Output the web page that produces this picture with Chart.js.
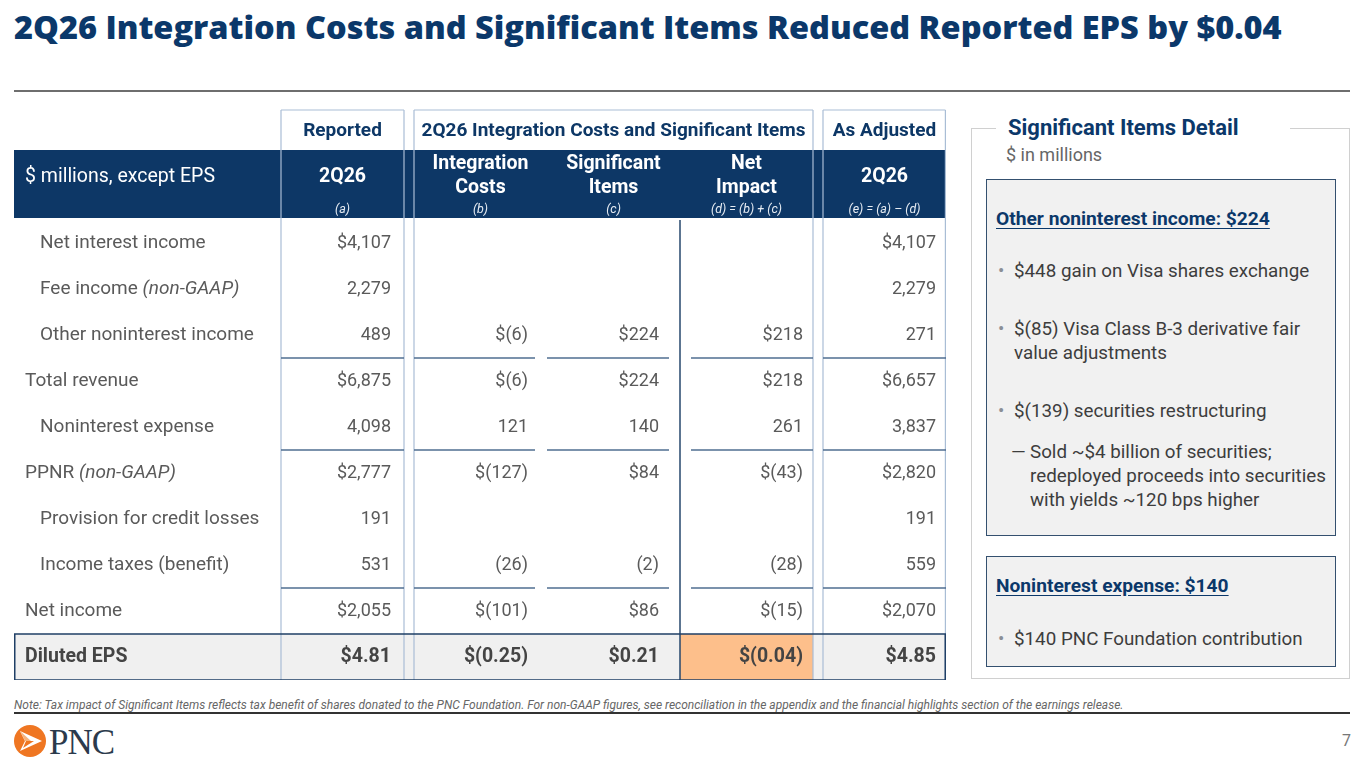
<!DOCTYPE html>
<html><head><meta charset="utf-8">
<script src="https://cdn.jsdelivr.net/npm/chart.js@4.4.1/dist/chart.umd.min.js"></script>
<style>
html,body{margin:0;padding:0;background:#fff;}
body{width:1365px;height:768px;position:relative;overflow:hidden;font-family:Roboto,"DejaVu Sans",sans-serif;}
#title{position:absolute;left:14px;top:5px;font-family:"Open Sans",Lato,sans-serif;font-weight:800;font-size:30px;color:#0b386a;white-space:nowrap;line-height:44px;}
#rule1{position:absolute;left:14px;top:90px;width:1336px;height:2px;background:#6e6e6e;}
#tableWrap{position:absolute;left:14px;top:109px;width:932px;height:571px;}
#panel{position:absolute;left:971px;top:128px;width:379px;height:551px;border:1px solid #d0d0d0;box-sizing:border-box;}
#panelTitle{position:absolute;left:996px;top:114px;width:294px;height:28px;background:#fff;padding-left:12px;box-sizing:border-box;font-weight:700;font-size:22px;line-height:28px;color:#0b386a;}
#panelSub{position:absolute;left:1006px;top:144px;font-size:18px;line-height:22px;color:#666;}
.box{position:absolute;left:986px;width:350px;background:#f1f1f1;border:1.5px solid #34506f;box-sizing:border-box;color:#3d3d3d;font-size:18.8px;}
.box .h{position:absolute;left:9px;font-weight:700;font-size:19.2px;color:#0b386a;text-decoration:underline;text-underline-offset:3px;line-height:22px;white-space:nowrap;}
.box .b{position:absolute;left:27px;line-height:24px;white-space:nowrap;}
.box .b::before{content:"•";position:absolute;left:-16px;color:#8a8f96;}
.box .d{position:absolute;left:43px;line-height:24px;white-space:nowrap;}
.box .d::before{content:"—";position:absolute;left:-19px;color:#3d3d3d;}
#note{position:absolute;left:14px;top:697px;font-size:12px;font-style:italic;color:#666;white-space:nowrap;line-height:16px;}
#rule2{position:absolute;left:14px;top:712px;width:1336px;height:1.5px;background:#333;}
#pageNo{position:absolute;left:1342px;top:731px;font-size:16px;color:#777;}
#logo{position:absolute;left:14px;top:724px;}
</style></head>
<body>
<div id="title">2Q26 Integration Costs and Significant Items Reduced Reported EPS by $0.04</div>
<div id="rule1"></div>

<div id="tableWrap"><canvas id="tbl" width="932" height="571"></canvas></div>

<div id="panel"></div>
<div id="panelTitle">Significant Items Detail</div>
<div id="panelSub">$ in millions</div>
<div class="box" style="top:179px;height:357px;">
  <div class="h" style="top:28px;">Other noninterest income: $224</div>
  <div class="b" style="top:79px;">$448 gain on Visa shares exchange</div>
  <div class="b" style="top:137px;">$(85) Visa Class B-3 derivative fair<br>value adjustments</div>
  <div class="b" style="top:219px;">$(139) securities restructuring</div>
  <div class="d" style="top:260px;">Sold ~$4 billion of securities;<br>redeployed proceeds into securities<br>with yields ~120 bps higher</div>
</div>
<div class="box" style="top:556px;height:111px;">
  <div class="h" style="top:18px;">Noninterest expense: $140</div>
  <div class="b" style="top:70px;">$140 PNC Foundation contribution</div>
</div>

<div id="note">Note: Tax impact of Significant Items reflects tax benefit of shares donated to the PNC Foundation. For non-GAAP figures, see reconciliation in the appendix and the financial highlights section of the earnings release.</div>
<div id="rule2"></div>
<svg id="logo" width="110" height="36" viewBox="0 0 110 36">
  <circle cx="16" cy="17" r="16" fill="#ef7622"/>
  <path d="M6 7 L28 17 L6 27 L11 17 Z" fill="#fff"/>
  <path d="M11 17 L6 7 L17 17 Z" fill="#f6b37c"/>
  <path d="M12 17 L20 17 L9 24 Z" fill="#ef7622"/>
  <text x="35" y="30" font-family="Liberation Serif, DejaVu Serif, serif" font-size="35" fill="#2b3a4c" letter-spacing="-1">PNC</text>
</svg>
<div id="pageNo">7</div>

<script>
// ---- data ----
const rowLabels = ['Net interest income','Fee income','Other noninterest income','Total revenue','Noninterest expense','PPNR','Provision for credit losses','Income taxes (benefit)','Net income','Diluted EPS'];
const rowLabelNotes = ['','(non-GAAP)','','','','(non-GAAP)','','','',''];
const columnKeys = ['Reported 2Q26','Integration Costs','Significant Items','Net Impact','As Adjusted 2Q26'];
const columnTitles = [['2Q26'],['Integration','Costs'],['Significant','Items'],['Net','Impact'],['2Q26']];
const columnRefs = ['(a)','(b)','(c)','(d) = (b) + (c)','(e) = (a) \u2013 (d)'];
const groupHeaders = ['Reported','2Q26 Integration Costs and Significant Items','As Adjusted'];
const groupSpans = [[0,0],[1,3],[4,4]];
const reported    = [4107, 2279, 489, 6875, 4098, 2777, 191, 531, 2055, 4.81];
const integration = [null, null, -6, -6, 121, -127, null, -26, -101, -0.25];
const significant = [null, null, 224, 224, 140, 84, null, -2, 86, 0.21];
const netImpact   = [null, null, 218, 218, 261, -43, null, -28, -15, -0.04];
const asAdjusted  = [4107, 2279, 271, 6657, 3837, 2820, 191, 559, 2070, 4.85];
const dollarRows  = [0, 3, 5, 8, 9];
const subtotalAfter = [2, 4, 7];
const highlightColumn = 3;

// ---- style ----
const indentedRows = [0,1,2,4,6,7];
const NAVY = '#0d3766';
const TXT = '#5a5a5a';
const GAP = 10;
const padRight = [13,19,21,10,10];
const series = [reported, integration, significant, netImpact, asAdjusted];

function fmt(v, r, firstIdx){
  if (v === null || v === undefined) return '';
  const eps = r === rowLabels.length - 1;
  const a = Math.abs(v);
  let s = eps ? a.toFixed(2) : a.toLocaleString('en-US');
  if (v < 0) s = '(' + s + ')';
  if (dollarRows.includes(r) || r === firstIdx) s = '$' + s;
  return s;
}

const tablePlugin = {
  id: 'tableCells',
  afterDraw(chart){
    const {ctx, chartArea: ca, scales: {x, y}} = chart;
    const n = columnKeys.length;
    const colW = x.getPixelForTick(1) - x.getPixelForTick(0);
    const b = [];
    for (let i = 0; i < n; i++) b.push(x.getPixelForTick(i) - colW/2);
    b.push(x.getPixelForTick(n-1) + colW/2);
    const spans = [[b[0], b[1]-GAP],[b[1], b[2]],[b[2], b[3]],[b[3], b[4]],[b[4]+GAP, b[5]]];
    const rowH = y.getPixelForTick(1) - y.getPixelForTick(0);
    const rowTop = i => y.getPixelForTick(i) - rowH/2;
    const groupTop = 1;
    const bandTop = ca.top - 70, bandH = 68;
    const last = rowLabels.length - 1;
    const right = b[5];

    ctx.save();
    ctx.fillStyle = NAVY;
    ctx.fillRect(0, bandTop, right, bandH);
    ctx.fillStyle = '#f0f0f0';
    ctx.fillRect(0, rowTop(last), right, rowH);
    ctx.fillStyle = '#fdbf8b';
    ctx.fillRect(b[highlightColumn], rowTop(last), b[highlightColumn+1]-b[highlightColumn], rowH);

    ctx.strokeStyle = '#a9bdd5';
    ctx.lineWidth = 1.2;
    [b[0], b[1]-GAP, b[1], b[4], b[4]+GAP, b[5]-0.6].forEach(px => {
      ctx.beginPath(); ctx.moveTo(px, groupTop); ctx.lineTo(px, ca.bottom); ctx.stroke();
    });
    [[b[0], b[1]-GAP],[b[1], b[4]],[b[4]+GAP, b[5]-0.6]].forEach(([a, c]) => {
      ctx.beginPath(); ctx.moveTo(a, groupTop); ctx.lineTo(c, groupTop); ctx.stroke();
    });
    ctx.strokeStyle = '#26476d';
    ctx.lineWidth = 1.5;
    ctx.beginPath(); ctx.moveTo(b[3], ca.top); ctx.lineTo(b[3], ca.bottom); ctx.stroke();

    ctx.strokeStyle = '#4f6e90';
    ctx.lineWidth = 1.5;
    const segs = [[b[0], b[1]-GAP],[b[1], b[2]-12],[b[2], b[3]-11],[b[3]+11, b[4]],[b[4]+GAP, b[5]]];
    subtotalAfter.forEach(r => {
      const yy = rowTop(r+1);
      segs.forEach(([a, c]) => { ctx.beginPath(); ctx.moveTo(a, yy); ctx.lineTo(c, yy); ctx.stroke(); });
    });
    ctx.strokeStyle = '#1f3f66';
    ctx.lineWidth = 1.5;
    ctx.strokeRect(0.75, rowTop(last), right-1.5, rowH);

    ctx.textBaseline = 'middle';
    ctx.textAlign = 'center';
    ctx.fillStyle = NAVY;
    ctx.font = 'bold 19px Roboto';
    groupHeaders.forEach((t, i) => {
      const [c0, c1] = groupSpans[i];
      ctx.fillText(t, (spans[c0][0] + spans[c1][1]) / 2, groupTop + 21);
    });
    ctx.fillStyle = '#ffffff';
    ctx.textAlign = 'left';
    ctx.font = '19.5px Roboto';
    ctx.fillText('$ millions, except EPS', 11, bandTop + 27);
    ctx.textAlign = 'center';
    columnTitles.forEach((lines, i) => {
      const cx = (spans[i][0] + spans[i][1]) / 2;
      ctx.font = 'bold 19.5px Roboto';
      if (lines.length === 1) ctx.fillText(lines[0], cx, bandTop + 27);
      else { ctx.fillText(lines[0], cx, bandTop + 14); ctx.fillText(lines[1], cx, bandTop + 38); }
      ctx.font = 'italic 12.5px Roboto';
      ctx.fillStyle = '#e6ecf3';
      ctx.fillText(columnRefs[i], cx, bandTop + 60);
      ctx.fillStyle = '#ffffff';
    });

    rowLabels.forEach((lab, r) => {
      const cy = y.getPixelForTick(r);
      const bold = r === last;
      let px = indentedRows.includes(r) ? 26 : 11;
      ctx.textAlign = 'left';
      ctx.fillStyle = bold ? '#444' : TXT;
      ctx.font = (bold ? 'bold 19.5px' : '19px') + ' Roboto';
      ctx.fillText(lab, px, cy);
      if (rowLabelNotes[r]) {
        px += ctx.measureText(lab + ' ').width;
        ctx.font = 'italic 19px Roboto';
        ctx.fillText(rowLabelNotes[r], px, cy);
      }
    });
    series.forEach((vals, c) => {
      const firstIdx = vals.findIndex(v => v !== null);
      vals.forEach((v, r) => {
        const s = fmt(v, r, firstIdx);
        if (!s) return;
        const bold = r === last;
        ctx.textAlign = 'right';
        ctx.fillStyle = bold ? '#444' : TXT;
        ctx.font = (bold ? 'bold 19.5px' : '18px') + ' Roboto';
        ctx.fillText(s, spans[c][1] - padRight[c], y.getPixelForTick(r));
      });
    });
    ctx.restore();
  }
};

new Chart(document.getElementById('tbl'), {
  type: 'bar',
  data: { labels: columnKeys, datasets: [] },
  options: {
    responsive: false,
    animation: false,
    events: [],
    layout: { padding: { left: 267, top: 111, right: 0, bottom: 0 } },
    plugins: { legend: { display: false }, tooltip: { enabled: false } },
    scales: {
      x: { type: 'category', labels: columnKeys, offset: true, display: false },
      y: { type: 'category', labels: rowLabels, offset: true, display: false }
    }
  },
  plugins: [tablePlugin]
});

(function(){
  const t = document.getElementById('title');
  const w = t.getBoundingClientRect().width;
  const target = 1268;
  const fs = 30 * target / w;
  t.style.fontSize = Math.min(fs, 34).toFixed(2) + 'px';
})();
</script>
</body></html>
